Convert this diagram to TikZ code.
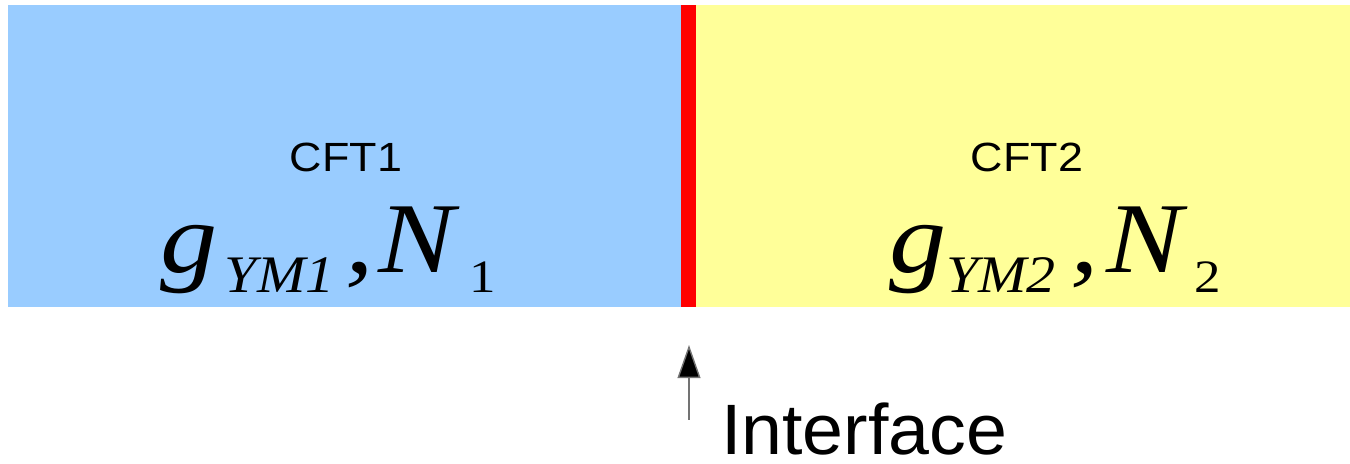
\documentclass[tikz,border=0pt]{standalone}
\usepackage{fontspec}
\setmainfont{Liberation Sans}
\newfontfamily\tmsfont{Liberation Serif}
\usetikzlibrary{arrows.meta}
\definecolor{cftblue}{HTML}{99CCFF}
\definecolor{cftyellow}{HTML}{FFFF99}
\definecolor{ifred}{HTML}{FF0000}
\tikzset{
  lbl/.style={inner sep=0, outer sep=0, anchor=base, xscale=1.1, transform shape},
  piece/.style={inner sep=0, outer sep=0, anchor=base west, text depth=0pt},
  mathpiece/.style={piece, xscale=1.14, transform shape},
  bigmath/.style={mathpiece, font=\tmsfont\itshape\fontsize{28.5pt}{30pt}\selectfont},
  submath/.style={piece, xscale=1.1, transform shape, font=\tmsfont\itshape\fontsize{15pt}{17pt}\selectfont},
  subdigit/.style={mathpiece, font=\tmsfont\fontsize{13.2pt}{15pt}\selectfont},
  cftlabel/.style={font=\fontsize{11.6pt}{13pt}\selectfont},
  pointer/.style={draw=black!55, line width=0.4pt, -{Triangle[width=6.5pt,length=9.4pt,fill=black]}}
}
\begin{document}
\begin{tikzpicture}[x=0.01cm, y=-0.01cm]
\useasboundingbox (0,0) rectangle (1350,464);
\fill[cftblue] (8,5) rectangle (681,307);
\fill[cftyellow] (696,5) rectangle (1350,307);
\fill[ifred] (681,5) rectangle (696,307);
% left labels
\node[lbl, cftlabel] (cft1) at (346,172) {CFT1};
\node[bigmath] (g1) at (160,273) {g};
\node[submath] (ym1) at (225,293) {YM1};
\node[bigmath] (c1) at (346,273) {,};
\node[bigmath] (n1) at (379,273) {N};
\node[subdigit] (s1) at (469,293) {1};
% right labels
\node[lbl, cftlabel] (cft2) at (1027,172) {CFT2};
\node[bigmath] (g2) at (889,273) {g};
\node[submath] (ym2) at (946,293) {YM2};
\node[bigmath] (c2) at (1070,273) {,};
\node[bigmath] (n2) at (1106,273) {N};
\node[subdigit] (s2) at (1194,293) {2};
% interface arrow
\coordinate (arrtail) at (689,420);
\coordinate (arrtip) at (689,345);
\draw[pointer] (arrtail) -- (arrtip);
\node[piece, xscale=1.03, transform shape, font=\fontsize{20.3pt}{22pt}\selectfont] (iface) at (721,455) {Interface};
\end{tikzpicture}
\end{document}
